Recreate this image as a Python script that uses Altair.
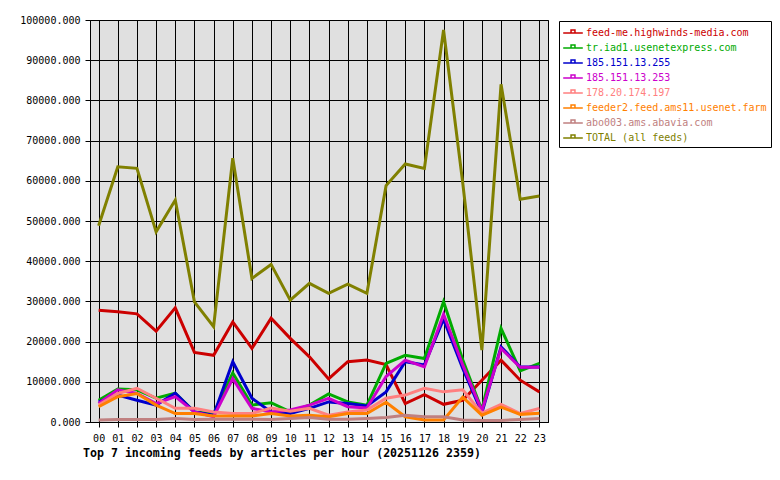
import altair as alt
import pandas as pd

# Hour-of-day categories
hours = [f"{h:02d}" for h in range(24)]

# Feed names, in legend order
feeds = [
    "feed-me.highwinds-media.com",
    "tr.iad1.usenetexpress.com",
    "185.151.13.255",
    "185.151.13.253",
    "178.20.174.197",
    "feeder2.feed.ams11.usenet.farm",
    "abo003.ams.abavia.com",
    "TOTAL (all feeds)",
]
feed_colors = ["#cc0000", "#00aa00", "#0000cc", "#cc00cc",
               "#ff8080", "#ff8000", "#c08080", "#808000"]

# Articles per hour for each feed
highwinds = [27800, 27400, 26900, 22600, 28400, 17300, 16600, 24900, 18300, 25800, 20800, 16200,
             10700, 15000, 15400, 14300, 4600, 6800, 4400, 5400, 10400, 15400, 10400, 7500]
usenetexpress = [5400, 8200, 8000, 5900, 7200, 2500, 2100, 12200, 4200, 4800, 2500, 4200,
                 7000, 5000, 4200, 14600, 16600, 15800, 29900, 15500, 3000, 23300, 12700, 14600]
ip_255 = [5000, 6700, 5400, 4200, 7200, 2500, 1700, 15000, 5900, 2500, 2100, 3400,
          5000, 4600, 4000, 7500, 15000, 14200, 25600, 13300, 2300, 18700, 13700, 13700]
ip_253 = [4600, 8000, 7100, 4600, 6300, 2500, 1300, 10800, 3400, 2500, 3000, 4200,
          5900, 3800, 3500, 11300, 15400, 13700, 26800, 14200, 2800, 18300, 13600, 13600]
ip_197 = [4200, 7100, 8400, 5900, 3400, 3400, 2500, 2100, 2100, 3500, 2700, 3400,
          1700, 2500, 3000, 5900, 6700, 8400, 7500, 8000, 2200, 4400, 2100, 3400]
usenet_farm = [3800, 6300, 7100, 4200, 2100, 2100, 1500, 1500, 1500, 2100, 1500, 1700,
               1300, 2100, 2100, 4900, 1300, 500, 500, 6200, 1700, 3700, 1900, 2200]
abavia = [500, 600, 600, 600, 900, 600, 700, 700, 700, 600, 900, 1100,
          700, 700, 900, 1100, 1700, 1300, 1300, 500, 400, 400, 600, 900]
total = [48800, 63500, 63100, 47300, 55200, 29900, 23700, 65600, 35700, 39200, 30300, 34500,
         32000, 34300, 32000, 58800, 64200, 63100, 97500, 59500, 17900, 84000, 55400, 56200]

series_values = [highwinds, usenetexpress, ip_255, ip_253, ip_197, usenet_farm, abavia, total]

rows = []
for name, vals in zip(feeds, series_values):
    for h, v in zip(hours, vals):
        rows.append({"hour": h, "feed": name, "articles": v})
df = pd.DataFrame(rows)

mono = "DejaVu Sans Mono"

chart = alt.Chart(df).mark_line(strokeWidth=3, interpolate="linear").encode(
    x=alt.X(
        "hour:O",
        sort=hours,
        scale=alt.Scale(type="point", padding=0.45),
        axis=alt.Axis(
            title=None, labelAngle=0, grid=True, gridColor="black", gridOpacity=1,
            gridWidth=1, tickColor="black", tickSize=5, domainColor="black",
            labelFont=mono, labelFontSize=10, labelColor="black", labelPadding=6,
        ),
    ),
    y=alt.Y(
        "articles:Q",
        scale=alt.Scale(domain=[0, 100000], nice=False, zero=True),
        axis=alt.Axis(
            title=None, values=list(range(0, 100001, 10000)), format=".3f",
            grid=True, gridColor="black", gridOpacity=1, gridWidth=1,
            tickColor="black", tickSize=5, domainColor="black",
            labelFont=mono, labelFontSize=10, labelColor="black", labelPadding=5,
        ),
    ),
    color=alt.Color(
        "feed:N",
        sort=feeds,
        scale=alt.Scale(domain=feeds, range=feed_colors),
        legend=alt.Legend(
            title=None, orient="none", legendX=469, legendY=1,
            strokeColor="black", fillColor="white", padding=4,
            symbolType="M-1.4,0H1.4M-0.28,0V-0.42H0.28V0",
            symbolSize=196, symbolStrokeWidth=1.5, symbolFillColor="transparent",
            symbolOffset=2,
            labelFont=mono, labelFontSize=10, labelOffset=5, rowPadding=2,
            labelLimit=300,
            labelColor=alt.ExprRef("scale('color', datum.value)"),
        ),
    ),
).properties(
    width=458,
    height=402,
    title=alt.TitleParams(
        text="Top 7 incoming feeds by articles per hour (20251126 2359)",
        orient="bottom", anchor="start", frame="group", font=mono, fontSize=11.6,
        fontWeight="bold", color="black", dx=-7, offset=5,
    ),
    autosize=alt.AutoSizeParams(type="none"),
    padding={"left": 90, "top": 20, "right": 232, "bottom": 58},
    background="white",
).configure_view(
    fill="#e0e0e0", stroke="black", strokeWidth=1,
)

chart.save("out.html", embed_options={"renderer": "svg", "actions": False})
